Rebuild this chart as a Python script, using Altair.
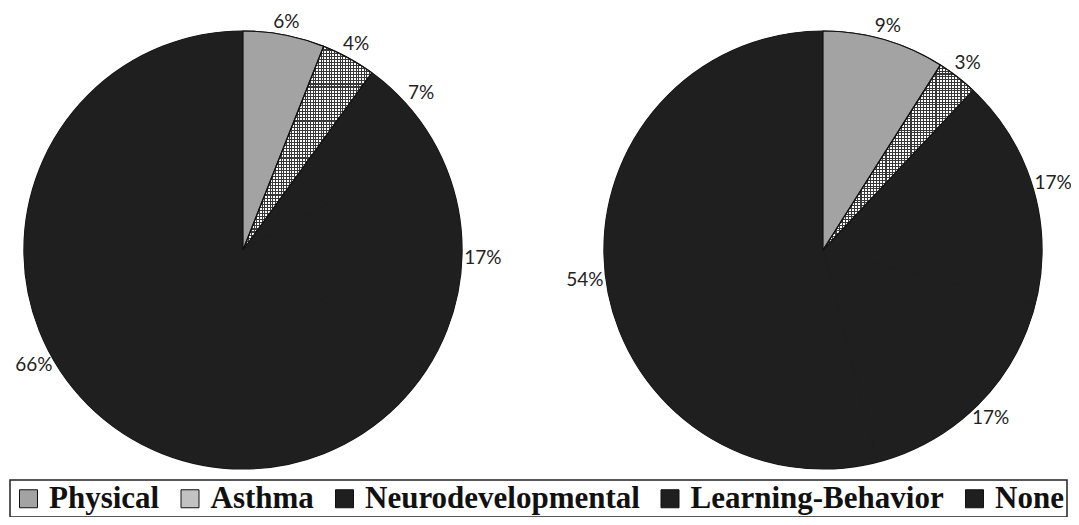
import math
import altair as alt
import pandas as pd

categories = ["Physical", "Asthma", "Neurodevelopmental", "Learning-Behavior", "None"]
left_values = [6, 4, 7, 17, 66]
right_values = [9, 3, 17, 17, 54]
pies = ["left", "right"]
colors = ["#a3a3a3", "#c2c2c2", "#1f1f1f", "#1f1f1f", "#1f1f1f"]

DARK = "#1f1f1f"
LINE = "#383838"


def stripes(n, frac, dark, light, horizontal):
    stops = []
    for i in range(n):
        a = round(i / n, 5)
        b = round((i + frac) / n, 5)
        c = round((i + 1) / n, 5)
        stops += [
            {"offset": a, "color": dark},
            {"offset": b, "color": dark},
            {"offset": b, "color": light},
            {"offset": c, "color": light},
        ]
    return {
        "gradient": "linear",
        "stops": stops,
        "x1": 0,
        "y1": 0,
        "x2": 0 if horizontal else 1,
        "y2": 1 if horizontal else 0,
    }


grad_h = stripes(66, 0.36, LINE, "#ffffff", True)
grad_v = stripes(48, 0.36, LINE, "rgba(255,255,255,0)", False)

rows = []
for pie_name, vals in zip(pies, [left_values, right_values]):
    for i, (c, v) in enumerate(zip(categories, vals)):
        rows.append({"pie": pie_name, "category": c, "value": v, "idx": i, "label": f"{v}%"})
df = pd.DataFrame(rows)

legend = alt.Legend(
    orient="none",
    legendX=2,
    legendY=472,
    direction="horizontal",
    columns=5,
    title=None,
    symbolType="square",
    symbolSize=324,
    symbolStrokeColor="#111111",
    symbolStrokeWidth=1,
    labelFont="Liberation Serif",
    labelFontSize=31,
    labelFontWeight="bold",
    labelColor="#111111",
    labelLimit=600,
    labelOffset=5,
    columnPadding=14.5,
    padding=3,
    strokeColor="#222222",
)

R = 219
theta_scale = alt.Scale(domain=[0, 100], range=[0, 2 * math.pi])
x_enc = alt.X(
    "pie:N",
    scale=alt.Scale(type="point", domain=pies, range=[235, 815], padding=0),
    axis=None,
)

base = (
    alt.Chart(df)
    .transform_window(
        cum="sum(value)", groupby=["pie"], sort=[alt.SortField("idx")]
    )
    .transform_calculate(
        start="datum.cum - datum.value", mid="datum.cum - datum.value / 2"
    )
    .transform_calculate(
        lr="230 + 10 * abs(sin(2 * PI * datum.mid / 100))"
    )
    .encode(x=x_enc)
)

disk = (
    alt.Chart(df)
    .transform_aggregate(total="sum(value)", groupby=["pie"])
    .transform_calculate(zero="0")
    .mark_arc(outerRadius=R, fill=DARK, stroke="#111111", strokeWidth=1.2)
    .encode(
        x=x_enc,
        theta=alt.Theta("zero:Q", scale=theta_scale, stack=None),
        theta2="total:Q",
    )
)

slices = base.mark_arc(outerRadius=R, strokeWidth=0).encode(
    theta=alt.Theta("start:Q", scale=theta_scale, stack=None),
    theta2="cum:Q",
    color=alt.Color(
        "category:N", scale=alt.Scale(domain=categories, range=colors), legend=legend
    ),
)

hatch_h = base.mark_arc(outerRadius=R, strokeWidth=0).encode(
    theta=alt.Theta("start:Q", scale=theta_scale, stack=None),
    theta2="cum:Q",
    fill=alt.condition(
        alt.datum.category == "Asthma", alt.value(grad_h), alt.value("transparent")
    ),
)

hatch_v = base.mark_arc(outerRadius=R, strokeWidth=0).encode(
    theta=alt.Theta("start:Q", scale=theta_scale, stack=None),
    theta2="cum:Q",
    fill=alt.condition(
        alt.datum.category == "Asthma", alt.value(grad_v), alt.value("transparent")
    ),
)

outline = base.mark_arc(outerRadius=R, fillOpacity=0, strokeWidth=1.2).encode(
    theta=alt.Theta("start:Q", scale=theta_scale, stack=None),
    theta2="cum:Q",
    stroke=alt.condition(
        alt.datum.idx < 2, alt.value("#111111"), alt.value("transparent")
    ),
)

labels = base.mark_text(font="Lato", fontSize=19, color="#222222").encode(
    theta=alt.Theta("mid:Q", scale=theta_scale, stack=None),
    radius=alt.Radius("lr:Q", scale=None),
    text="label:N",
)

chart = (
    alt.layer(disk, slices, hatch_h, hatch_v, outline, labels)
    .properties(
        width=1063,
        height=484,
        padding={"left": 0, "top": 0, "right": 0, "bottom": 25},
        autosize=alt.AutoSizeParams(type="none"),
    )
    .configure_view(stroke=None)
    .configure_legend(strokeWidth=1.5)
)

chart.save("out.html", embed_options={"renderer": "svg", "actions": False})
